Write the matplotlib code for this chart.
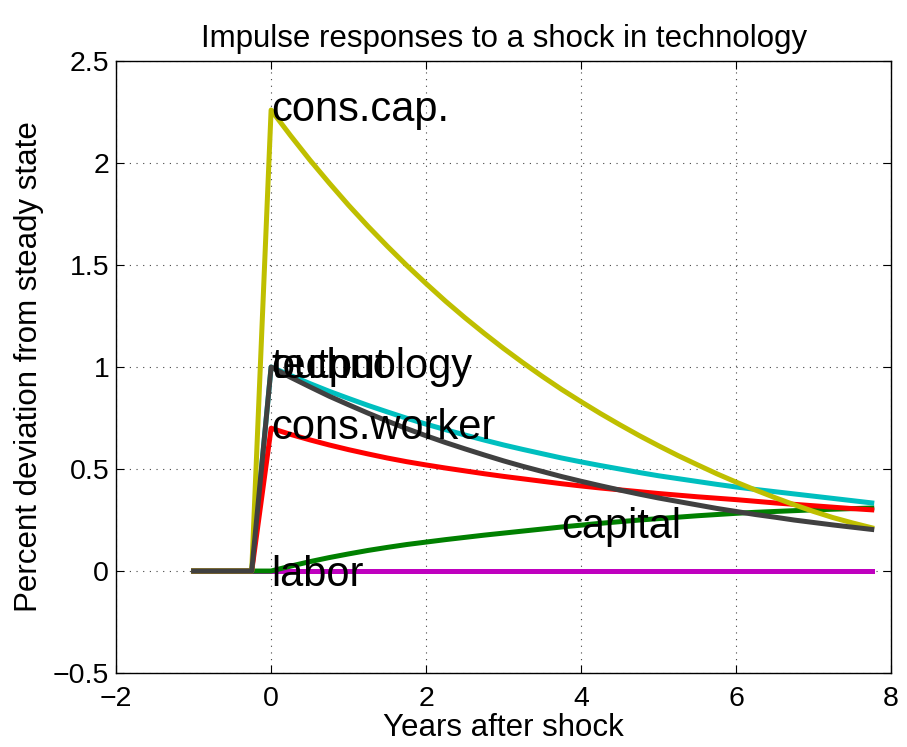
import matplotlib
matplotlib.use("Agg")
import matplotlib.pyplot as plt
from matplotlib.ticker import FixedLocator, FixedFormatter

plt.rcParams['font.family'] = ['Liberation Sans', 'DejaVu Sans']

# years after the shock (quarterly)
years = [-1.0, -0.75, -0.5, -0.25,
         0.0, 0.25, 0.5, 0.75, 1.0, 1.25, 1.5, 1.75,
         2.0, 2.25, 2.5, 2.75, 3.0, 3.25, 3.5, 3.75,
         4.0, 4.25, 4.5, 4.75, 5.0, 5.25, 5.5, 5.75,
         6.0, 6.25, 6.5, 6.75, 7.0, 7.25, 7.5, 7.75]

labor = [0, 0, 0, 0,
         0, 0, 0, 0, 0, 0, 0, 0,
         0, 0, 0, 0, 0, 0, 0, 0,
         0, 0, 0, 0, 0, 0, 0, 0,
         0, 0, 0, 0, 0, 0, 0, 0]

capital = [0, 0, 0, 0,
           0.000, 0.024, 0.046, 0.066, 0.084, 0.101, 0.116, 0.130,
           0.142, 0.154, 0.165, 0.176, 0.186, 0.196, 0.206, 0.216,
           0.225, 0.234, 0.242, 0.250, 0.257, 0.264, 0.271, 0.277,
           0.283, 0.288, 0.292, 0.296, 0.300, 0.303, 0.306, 0.309]

technology = [0, 0, 0, 0,
              1.000, 0.959, 0.919, 0.881, 0.846, 0.812, 0.780, 0.749,
              0.720, 0.693, 0.667, 0.642, 0.618, 0.596, 0.575, 0.554,
              0.535, 0.517, 0.500, 0.483, 0.467, 0.453, 0.439, 0.425,
              0.412, 0.400, 0.389, 0.378, 0.367, 0.356, 0.345, 0.334]

cons_worker = [0, 0, 0, 0,
               0.700, 0.670, 0.643, 0.618, 0.595, 0.574, 0.554, 0.536,
               0.520, 0.505, 0.491, 0.477, 0.464, 0.452, 0.440, 0.428,
               0.417, 0.407, 0.398, 0.389, 0.380, 0.372, 0.364, 0.357,
               0.350, 0.342, 0.334, 0.327, 0.320, 0.313, 0.306, 0.300]

cons_cap = [0, 0, 0, 0,
            2.260, 2.135, 2.015, 1.902, 1.793, 1.690, 1.592, 1.498,
            1.409, 1.323, 1.242, 1.165, 1.091, 1.021, 0.954, 0.890,
            0.830, 0.772, 0.717, 0.664, 0.614, 0.566, 0.521, 0.477,
            0.436, 0.397, 0.360, 0.325, 0.292, 0.262, 0.236, 0.212]

output = [0, 0, 0, 0,
          1.000, 0.950, 0.903, 0.857, 0.815, 0.774, 0.735, 0.698,
          0.663, 0.630, 0.599, 0.569, 0.540, 0.513, 0.488, 0.463,
          0.440, 0.418, 0.397, 0.377, 0.358, 0.341, 0.324, 0.307,
          0.292, 0.277, 0.264, 0.250, 0.238, 0.226, 0.215, 0.204]

x_ticks = [-2, 0, 2, 4, 6, 8]
y_ticks = [-0.5, 0, 0.5, 1, 1.5, 2, 2.5]
y_tick_labels = ['\u22120.5', '0', '0.5', '1', '1.5', '2', '2.5']

fig = plt.figure(figsize=(9.07, 7.47), dpi=100)
ax = fig.add_axes([0.128, 0.099, 0.8545, 0.8193])

lw = 3.6
ax.plot(years, labor, color='#BF00BF', lw=lw)
ax.plot(years, capital, color='#008000', lw=lw)
ax.plot(years, technology, color='#00BFBF', lw=lw)
ax.plot(years, cons_worker, color='#FF0000', lw=lw)
ax.plot(years, cons_cap, color='#BFBF00', lw=lw)
ax.plot(years, output, color='#404040', lw=lw)

# labels placed on the curves, like text() in matlab
lab_fs = 30
ax.text(years[4], cons_cap[4], 'cons.cap.', fontsize=lab_fs, va='center')
ax.text(years[4], technology[4], 'technology', fontsize=lab_fs, va='center')
ax.text(years[4], output[4], 'output', fontsize=lab_fs, va='center')
ax.text(years[4], cons_worker[4], 'cons.worker', fontsize=lab_fs, va='center')
ax.text(years[4], labor[4] - 0.02, 'labor', fontsize=lab_fs, va='center')
ax.text(years[19], capital[19], 'capital', fontsize=lab_fs, va='center')

ax.set_xlim(-2, 8)
ax.set_ylim(-0.5, 2.5)
ax.xaxis.set_major_locator(FixedLocator(x_ticks))
ax.yaxis.set_major_locator(FixedLocator(y_ticks))
ax.yaxis.set_major_formatter(FixedFormatter(y_tick_labels))
ax.tick_params(direction='in', top=True, right=True, length=6, width=0.8,
               labelsize=20.5)
ax.tick_params(axis='x', pad=9)
ax.tick_params(axis='y', pad=5)
ax.grid(True, color='#444444', linestyle=(0, (1, 5)), lw=0.8)
for s in ax.spines.values():
    s.set_linewidth(1.0)

ax.set_title('Impulse responses to a shock in technology', fontsize=22.5, pad=10)
ax.set_xlabel('Years after shock', fontsize=22.5, labelpad=1)
ax.set_ylabel('Percent deviation from steady state', fontsize=22.5)
ax.yaxis.set_label_coords(-0.093, 0.5)

fig.savefig('out.png', dpi=100)
